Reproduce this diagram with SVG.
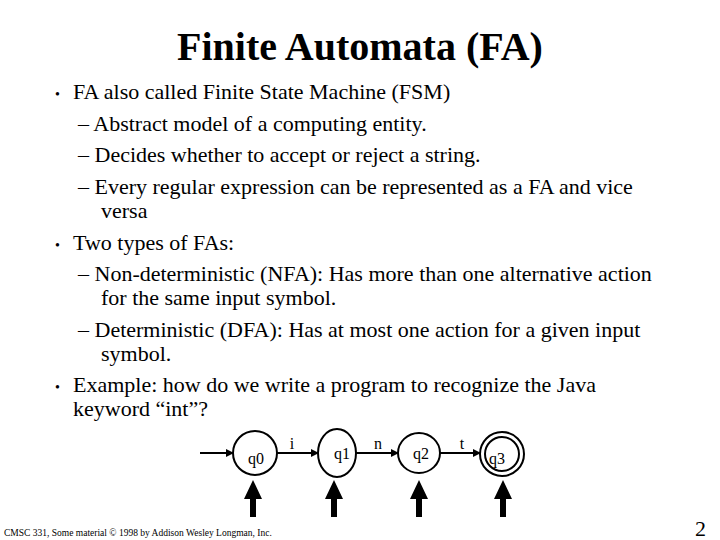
<svg xmlns="http://www.w3.org/2000/svg" width="720" height="540" viewBox="0 0 720 540">
<style>
text{font-family:"Liberation Serif",serif;fill:#000}
.t{font-size:22px}
.s{font-size:16px}
.st{fill:none;stroke:#000;stroke-width:2}
</style>
<defs><marker id="a" markerWidth="8" markerHeight="8" refX="7" refY="4" orient="auto" markerUnits="userSpaceOnUse"><path d="M0,0L8,4L0,8z"/></marker>
<path id="up" d="M0,-37L-9,-18L-3,-18L-3,0L3,0L3,-18L9,-18z"/></defs>
<rect width="720" height="540" fill="#fff"/>
<text x="360" y="60" text-anchor="middle" font-size="40" font-weight="bold">Finite Automata (FA)</text>
<g class="t">
<text x="55" y="99" font-size="14">•</text><text x="73" y="99">FA also called Finite State Machine (FSM)</text>
<text x="78" y="131">– Abstract model of a computing entity.</text>
<text x="78" y="162">– Decides whether to accept or reject a string.</text>
<text x="78" y="194">– Every regular expression can be represented as a FA and vice</text>
<text x="101" y="218">versa</text>
<text x="55" y="250" font-size="14">•</text><text x="73" y="250">Two types of FAs:</text>
<text x="78" y="281">– Non-deterministic (NFA): Has more than one alternative action</text>
<text x="101" y="305">for the same input symbol.</text>
<text x="78" y="337">– Deterministic (DFA): Has at most one action for a given input</text>
<text x="101" y="361">symbol.</text>
<text x="55" y="392" font-size="14">•</text><text x="73" y="392">Example: how do we write a program to recognize the Java</text>
<text x="73" y="416">keyword “int”?</text>
</g>
<g id="q0"><ellipse class="st" cx="255" cy="453" rx="22" ry="22"/><text class="s" x="256" y="464" text-anchor="middle">q0</text></g>
<g id="q1"><ellipse class="st" cx="337" cy="453" rx="19" ry="24"/><text class="s" x="342" y="459" text-anchor="middle">q1</text></g>
<g id="q2"><ellipse class="st" cx="419" cy="453" rx="21" ry="20"/><text class="s" x="421" y="459" text-anchor="middle">q2</text></g>
<g id="q3"><circle class="st" cx="502" cy="454" r="22"/><circle class="st" cx="502" cy="454" r="17"/><text class="s" x="497" y="464" text-anchor="middle">q3</text></g>
<g id="edges" stroke="#000" stroke-width="2" marker-end="url(#a)">
<line x1="200" y1="453" x2="233" y2="453"/>
<line x1="277" y1="453" x2="318" y2="453"/>
<line x1="356" y1="453" x2="398" y2="453"/>
<line x1="440" y1="453" x2="480" y2="453"/>
</g>
<g class="s"><text x="292" y="449" text-anchor="middle">i</text><text x="378" y="449" text-anchor="middle">n</text><text x="462" y="449" text-anchor="middle">t</text></g>
<g id="ups"><use href="#up" x="253" y="517"/><use href="#up" x="334" y="517"/><use href="#up" x="419" y="517"/><use href="#up" x="503" y="517"/></g>
<text x="4" y="536" font-size="9.5">CMSC 331, Some material © 1998 by Addison Wesley Longman, Inc.</text>
<text x="706" y="536" text-anchor="end" font-family="Liberation Sans,sans-serif" font-size="22">2</text>
</svg>
